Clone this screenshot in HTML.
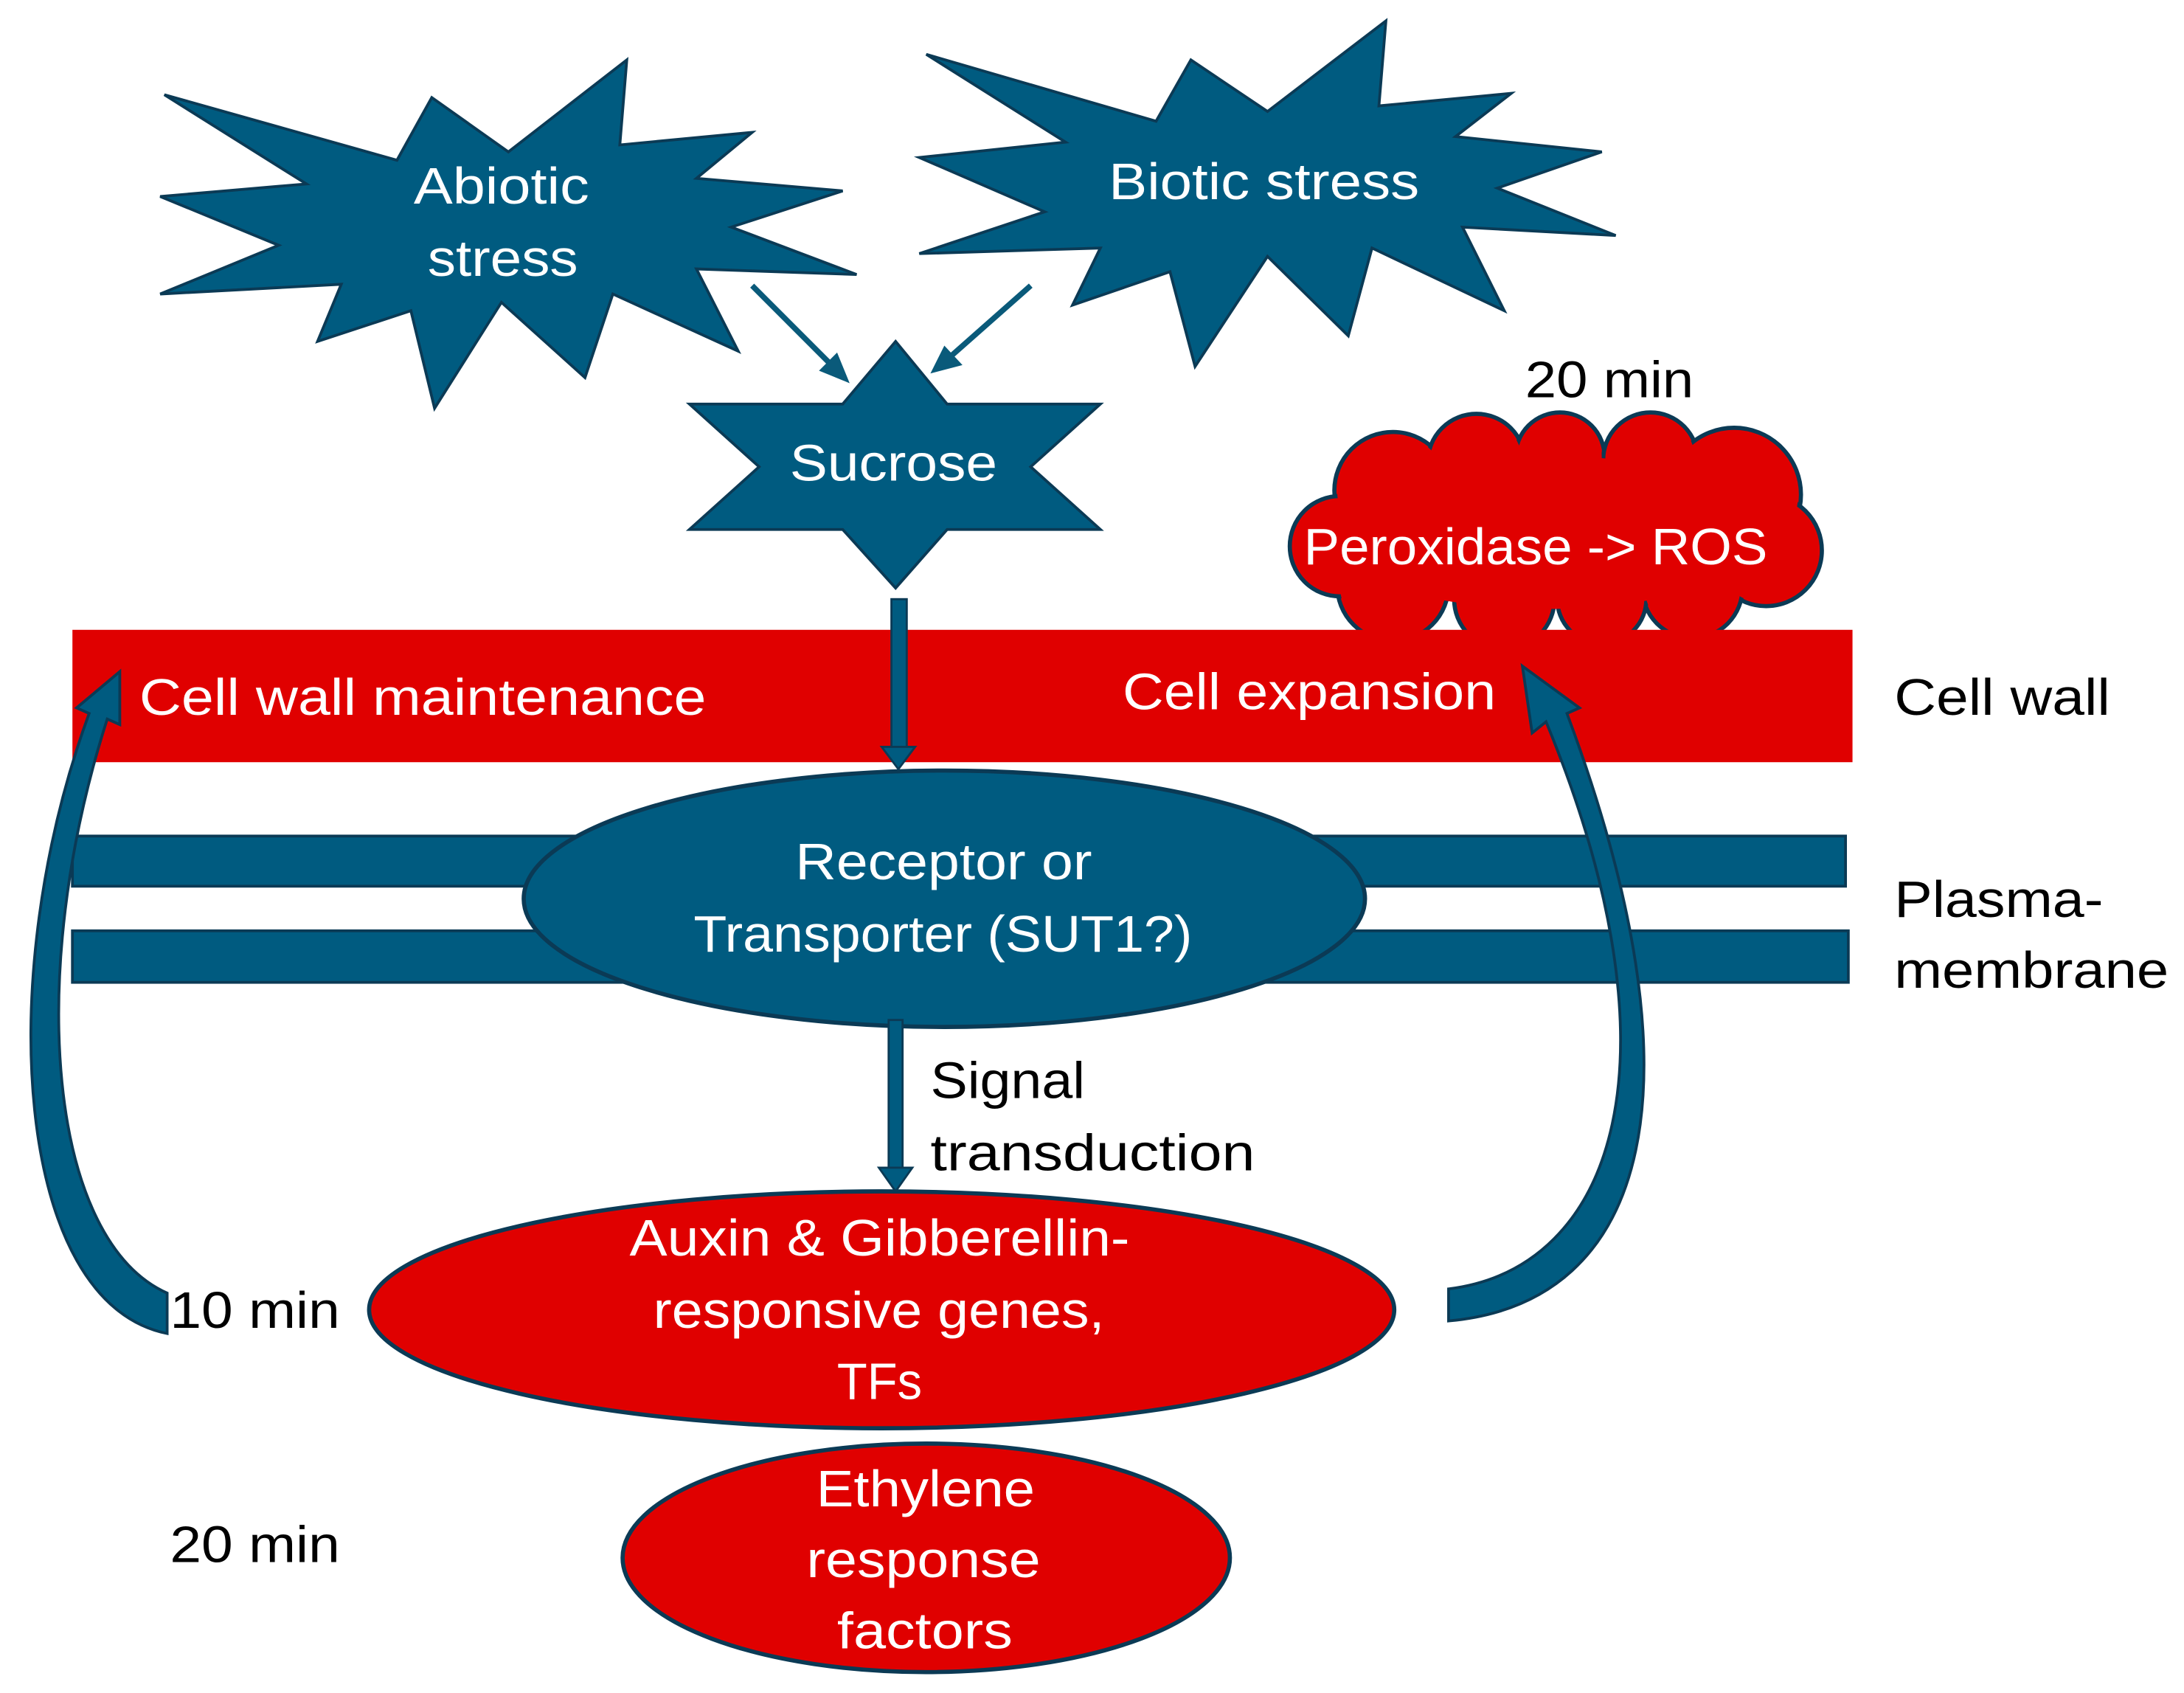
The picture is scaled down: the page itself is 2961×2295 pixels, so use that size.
<!DOCTYPE html>
<html><head><meta charset="utf-8"><style>
html,body{margin:0;padding:0;background:#fff;}
svg{display:block;}
text{font-family:"Liberation Sans",sans-serif;font-size:37px;}
.w{fill:#fff;}
.b{fill:#000;}
</style></head><body>
<svg width="2961" height="2295" viewBox="0 0 1568 1215" preserveAspectRatio="none" xmlns="http://www.w3.org/2000/svg">
<g fill="#005b80" stroke="#0b3a55" stroke-width="2">
<polygon points="118,68 285,115 310,70 365,109 450,43 445,104 540,95 500,128 605,137 525,163 615,197 500,193 530,252 440,211 420,271 360,217 312,293 295,223 228,245 245,204 115,211 200,176 115,141 220,132"/>
<polygon points="665,39 830,87 855,43 910,80 995,15 990,76 1085,67 1045,98 1150,109 1075,135 1160,169 1050,163 1080,223 985,178 968,241 910,184 858,263 840,195 770,219 790,178 660,182 750,152 660,113 765,102"/>
<polygon points="643,245 680,290 790,290 740,335 790,380 680,380 643,422 605,380 495,380 545,335 495,290 605,290"/>
</g>
<text class="w" x="297" y="146" textLength="126" lengthAdjust="spacingAndGlyphs">Abiotic</text>
<text class="w" x="307" y="198" textLength="108" lengthAdjust="spacingAndGlyphs">stress</text>
<text class="w" x="796" y="143" textLength="223" lengthAdjust="spacingAndGlyphs">Biotic stress</text>
<text class="w" x="567" y="345" textLength="149" lengthAdjust="spacingAndGlyphs">Sucrose</text>
<g stroke="#0a5a7a" stroke-width="4" fill="#0a5a7a">
<line x1="540" y1="205" x2="598" y2="263"/>
<polygon points="610,275 588,266 601,253" stroke="none"/>
<line x1="740" y1="205" x2="680" y2="258"/>
<polygon points="668,268 678,248 691,262" stroke="none"/>
</g>
<!-- cloud -->
<g fill="#e00000" stroke="#0b3a55" stroke-width="3">
<circle cx="1000" cy="352" r="42"/><circle cx="1060" cy="332" r="35"/><circle cx="1120" cy="328" r="32"/><circle cx="1185" cy="330" r="34"/><circle cx="1245" cy="355" r="48"/><circle cx="1268" cy="395" r="40"/><circle cx="1215" cy="422" r="36"/><circle cx="1150" cy="430" r="32"/><circle cx="1080" cy="430" r="36"/><circle cx="1000" cy="420" r="40"/><circle cx="962" cy="392" r="36"/>
</g>
<g fill="#e00000">
<circle cx="1000" cy="352" r="40"/><circle cx="1060" cy="332" r="33"/><circle cx="1120" cy="328" r="30"/><circle cx="1185" cy="330" r="32"/><circle cx="1245" cy="355" r="46"/><circle cx="1268" cy="395" r="38"/><circle cx="1215" cy="422" r="34"/><circle cx="1150" cy="430" r="30"/><circle cx="1080" cy="430" r="34"/><circle cx="1000" cy="420" r="38"/><circle cx="962" cy="392" r="34"/>
<ellipse cx="1110" cy="382" rx="160" ry="55"/>
</g>
<text class="w" x="936" y="405" textLength="333" lengthAdjust="spacingAndGlyphs">Peroxidase -&gt; ROS</text>
<text class="b" x="1095" y="285" textLength="121" lengthAdjust="spacingAndGlyphs">20 min</text>
<!-- cell wall -->
<rect x="52" y="452" width="1278" height="95" fill="#e00000"/>
<text class="w" x="100" y="513" textLength="407" lengthAdjust="spacingAndGlyphs">Cell wall maintenance</text>
<text class="w" x="806" y="509" textLength="268" lengthAdjust="spacingAndGlyphs">Cell expansion</text>
<text class="b" x="1360" y="513" textLength="155" lengthAdjust="spacingAndGlyphs">Cell wall</text>
<!-- arrow down -->
<rect x="640" y="430" width="11" height="108" fill="#005b80" stroke="#0b3a55" stroke-width="1.5"/>
<polygon points="633,536 657,536 645,552" fill="#005b80" stroke="#0b3a55" stroke-width="1.5"/>
<!-- membrane -->
<rect x="52" y="600" width="1273" height="36" fill="#005b80" stroke="#0b3a55" stroke-width="2"/>
<rect x="52" y="668" width="1275" height="37" fill="#005b80" stroke="#0b3a55" stroke-width="2"/>
<ellipse cx="678" cy="645" rx="302" ry="92" fill="#005b80" stroke="#0b3a55" stroke-width="3"/>
<text class="w" x="571" y="631" textLength="213" lengthAdjust="spacingAndGlyphs">Receptor or</text>
<text class="w" x="498" y="683" textLength="358" lengthAdjust="spacingAndGlyphs">Transporter (SUT1?)</text>
<text class="b" x="1360" y="658" textLength="150" lengthAdjust="spacingAndGlyphs">Plasma-</text>
<text class="b" x="1360" y="709" textLength="197" lengthAdjust="spacingAndGlyphs">membrane</text>
<!-- signal arrow -->
<rect x="638" y="732" width="10" height="108" fill="#005b80" stroke="#0b3a55" stroke-width="1.5"/>
<polygon points="631,838 655,838 643,855" fill="#005b80" stroke="#0b3a55" stroke-width="1.5"/>
<text class="b" x="668" y="788" textLength="111" lengthAdjust="spacingAndGlyphs">Signal</text>
<text class="b" x="668" y="840" textLength="233" lengthAdjust="spacingAndGlyphs">transduction</text>
<!-- curved arrows -->
<path d="M120,957 C10,935 -5,700 64,512 L55,508 L86,482 L86,520 L77,516 C18,700 35,890 120,928 Z" fill="#005b80" stroke="#0b3a55" stroke-width="2"/>
<path d="M1040,948 C1185,935 1225,780 1125,512 L1134,508 L1093,478 L1100,526 L1110,518 C1210,760 1160,910 1040,925 Z" fill="#005b80" stroke="#0b3a55" stroke-width="2"/>
<!-- auxin -->
<ellipse cx="633" cy="940" rx="368" ry="85" fill="#e00000" stroke="#0b3a55" stroke-width="3"/>
<text class="w" x="452" y="901" textLength="359" lengthAdjust="spacingAndGlyphs">Auxin &amp; Gibberellin-</text>
<text class="w" x="469" y="953" textLength="324" lengthAdjust="spacingAndGlyphs">responsive genes,</text>
<text class="w" x="601" y="1004" textLength="61" lengthAdjust="spacingAndGlyphs">TFs</text>
<text class="b" x="122" y="953" textLength="122" lengthAdjust="spacingAndGlyphs">10 min</text>
<!-- ethylene -->
<ellipse cx="665" cy="1118" rx="218" ry="82" fill="#e00000" stroke="#0b3a55" stroke-width="3"/>
<text class="w" x="586" y="1081" textLength="157" lengthAdjust="spacingAndGlyphs">Ethylene</text>
<text class="w" x="579" y="1132" textLength="168" lengthAdjust="spacingAndGlyphs">response</text>
<text class="w" x="601" y="1183" textLength="126" lengthAdjust="spacingAndGlyphs">factors</text>
<text class="b" x="122" y="1121" textLength="122" lengthAdjust="spacingAndGlyphs">20 min</text>
</svg>
</body></html>
